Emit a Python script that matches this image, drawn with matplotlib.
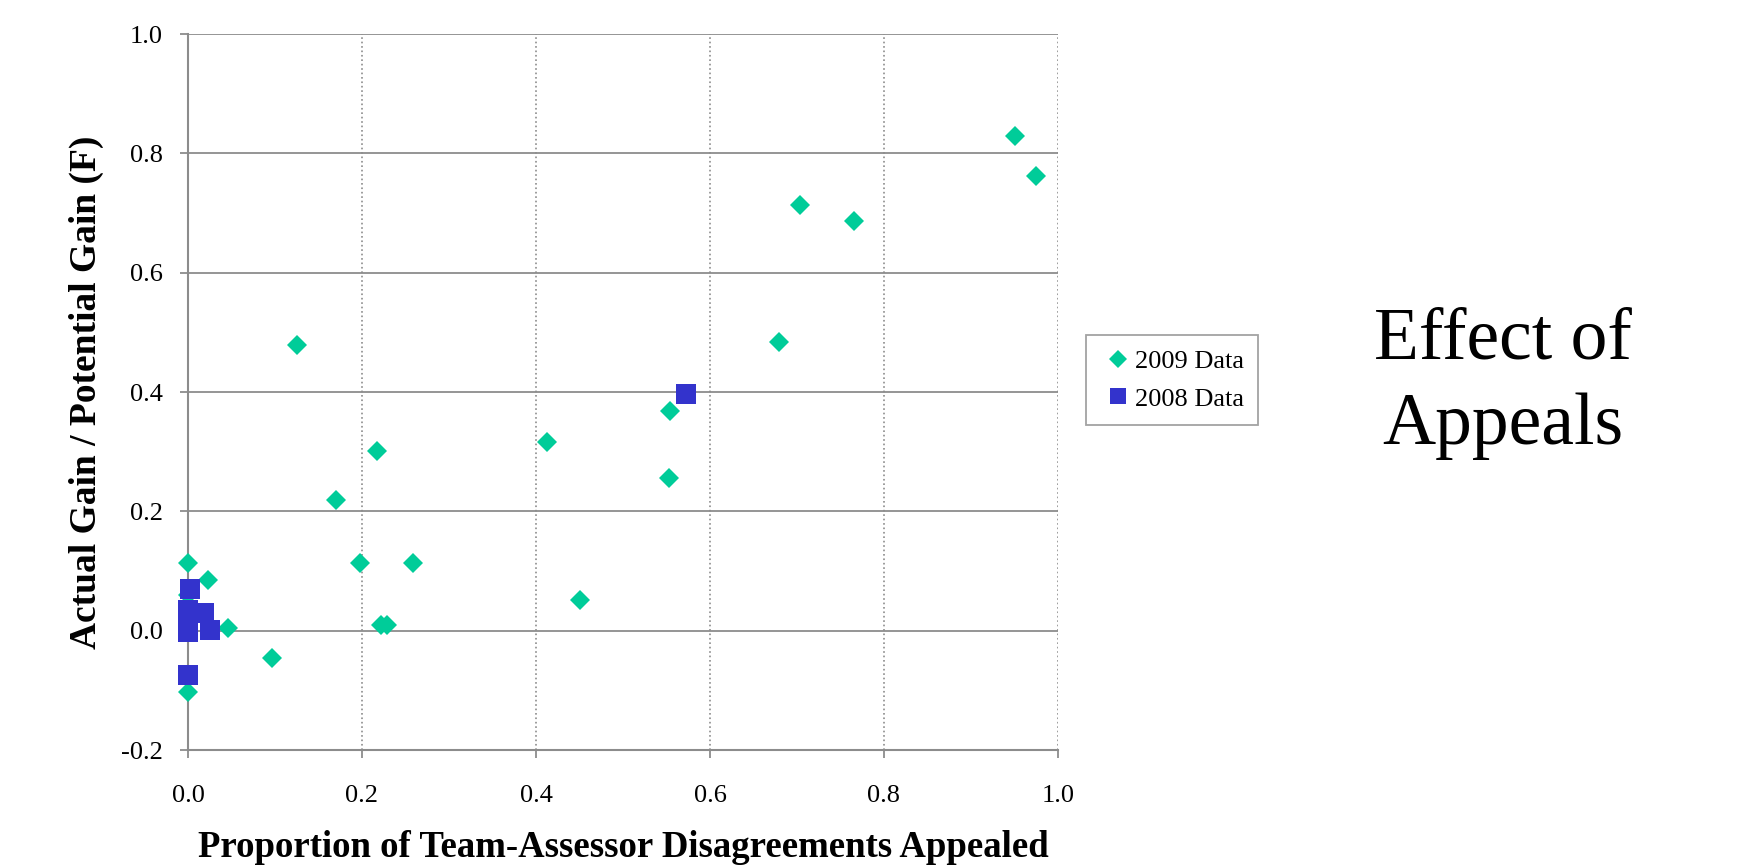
import matplotlib
matplotlib.use("Agg")
import matplotlib.pyplot as plt

# Data
x_2009 = [0.951, 0.975, 0.704, 0.766, 0.679, 0.125, 0.554, 0.413, 0.553,
          0.217, 0.170, 0.198, 0.259, 0.000, 0.023, 0.451, 0.222, 0.229,
          0.046, 0.097, 0.000, 0.000]
y_2009 = [0.829, 0.762, 0.714, 0.686, 0.484, 0.479, 0.369, 0.317, 0.256,
          0.301, 0.219, 0.113, 0.113, 0.113, 0.085, 0.052, 0.009, 0.009,
          0.004, -0.045, -0.102, 0.060]

x_2008 = [0.002, 0.000, 0.000, 0.000, 0.018, 0.025, 0.000, 0.573]
y_2008 = [0.070, 0.035, 0.013, -0.003, 0.029, 0.002, -0.074, 0.397]

green = "#00CC99"
blue = "#3333CC"
grid_col = "#8C8C8C"

plt.rcParams['font.family'] = ['Liberation Serif', 'DejaVu Serif']

fig = plt.figure(figsize=(17.37, 8.66), dpi=100)
ax = fig.add_axes([0.1082, 0.1339, 0.5009, 0.8268])

ax.plot(x_2009, y_2009, linestyle="none", marker="D", markersize=10.5,
        color=green, markeredgewidth=0, label="2009 Data", zorder=3,
        clip_on=False)
ax.plot(x_2008, y_2008, linestyle="none", marker="s", markersize=14,
        color=blue, markeredgewidth=0, label="2008 Data", zorder=4,
        clip_on=False)

ax.set_xlim(0, 1.0)
ax.set_ylim(-0.2, 1.0)
ax.set_xticks([0.0, 0.2, 0.4, 0.6, 0.8, 1.0])
ax.set_yticks([-0.2, 0.0, 0.2, 0.4, 0.6, 0.8, 1.0])
ax.set_xticklabels(["0.0", "0.2", "0.4", "0.6", "0.8", "1.0"])
ax.set_yticklabels(["-0.2", "0.0", "0.2", "0.4", "0.6", "0.8", "1.0"])

# Gridlines: solid horizontal, dotted vertical
ax.yaxis.grid(True, color=grid_col, linestyle="-", linewidth=1.3, zorder=0)
ax.xaxis.grid(True, color=grid_col, linestyle=":", linewidth=1.2, zorder=0)
ax.set_axisbelow(True)

for s in ["top", "right"]:
    ax.spines[s].set_visible(False)
for s in ["left", "bottom"]:
    ax.spines[s].set_color(grid_col)
    ax.spines[s].set_linewidth(1.5)

ax.tick_params(axis="both", direction="out", length=6, width=1.3,
               color=grid_col, labelsize=19)
ax.tick_params(axis="x", pad=19)
ax.tick_params(axis="y", pad=12)

ax.set_xlabel("Proportion of Team-Assessor Disagreements Appealed",
              fontsize=26.5, fontweight="bold", labelpad=17)
ax.set_ylabel("Actual Gain / Potential Gain (F)",
              fontsize=27, fontweight="bold", labelpad=12)

leg = fig.legend(loc="center", bbox_to_anchor=(0.6749, 0.5612),
                 fontsize=19, frameon=True, fancybox=False,
                 handletextpad=0.0, handlelength=1.3, borderpad=0.55,
                 labelspacing=0.55, markerscale=0.85, borderaxespad=0)
leg.get_frame().set_edgecolor(grid_col)
leg.get_frame().set_linewidth(1.3)

fig.text(0.8653, 0.557, "Effect of\nAppeals", fontsize=53, ha="center",
         va="center", linespacing=1.36)

fig.savefig("out.png", dpi=100)
